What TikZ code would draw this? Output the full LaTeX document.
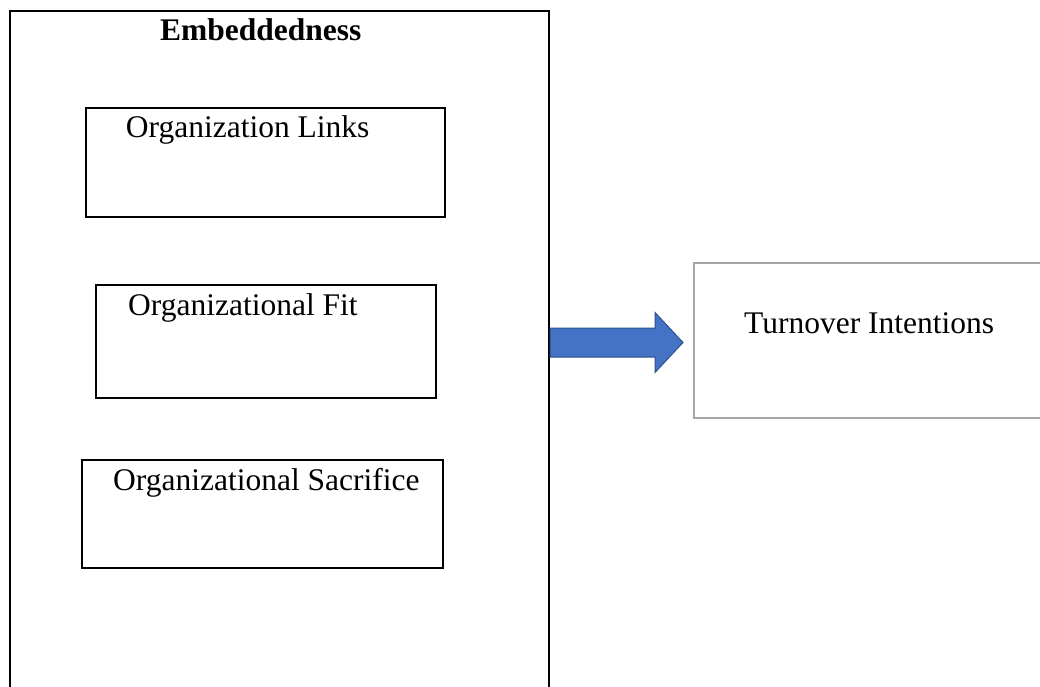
\documentclass[tikz,border=0pt]{standalone}
\usepackage{fontspec}
\setmainfont{Liberation Serif}
\usetikzlibrary{calc}
\definecolor{arrowfill}{HTML}{4472C4}
\definecolor{arrowedge}{HTML}{2F528F}
\definecolor{lightframe}{HTML}{A6A6A6}
\begin{document}
\begin{tikzpicture}[x=1pt,y=-1pt,
  box/.style={draw=black,line width=2pt,inner sep=0pt,outer sep=0pt,anchor=north west},
  graybox/.style={draw=lightframe,line width=2pt,inner sep=0pt,outer sep=0pt,anchor=north west},
  lbl/.style={font=\fontsize{31.5}{36}\selectfont,inner sep=0pt,anchor=base west},
  blockarrow/.style={fill=arrowfill,draw=arrowedge,line width=1pt,line join=miter}]
\useasboundingbox (0,0) rectangle (1040,687);
\clip (0,0) rectangle (1040,687);
\fill[white] (0,0) rectangle (1040,687);

% outer frame (runs past the lower edge)
\node[box,minimum width=539pt,minimum height=700pt] (embed) at (10,11) {};
\node[lbl,font=\fontsize{31.5}{36}\selectfont\bfseries] (embedtxt) at (160,40.7) {Embeddedness};

% three dimensions
\node[box,minimum width=359pt,minimum height=109pt] (links) at (86,108) {};
\node[lbl] (linkstxt) at (125.7,138) {Organization Links};

\node[box,minimum width=340pt,minimum height=113pt] (fit) at (96,285) {};
\node[lbl] (fittxt) at (128,315) {Organizational Fit};

\node[box,minimum width=361pt,minimum height=108pt] (sacrifice) at (82,460) {};
\node[lbl] (sacrificetxt) at (113,490) {Organizational Sacrifice};

% outcome
\node[graybox,minimum width=400pt,minimum height=155pt] (turnover) at (694,263) {};
\node[lbl] (turnovertxt) at (744,333) {Turnover Intentions};

% block arrow from the frame to the outcome
\coordinate (mid) at (600,342.5);
\filldraw[blockarrow]
  let \p1=([xshift=1pt]embed.east |- mid), \p2=([xshift=-11pt]turnover.west |- mid) in
  (\x1,\y1+14.5pt) -- (\x2-28pt,\y1+14.5pt) -- (\x2-28pt,\y1+30pt) -- (\x2,\y1)
  -- (\x2-28pt,\y1-30pt) -- (\x2-28pt,\y1-14.5pt) -- (\x1,\y1-14.5pt) -- cycle;
\end{tikzpicture}
\end{document}
